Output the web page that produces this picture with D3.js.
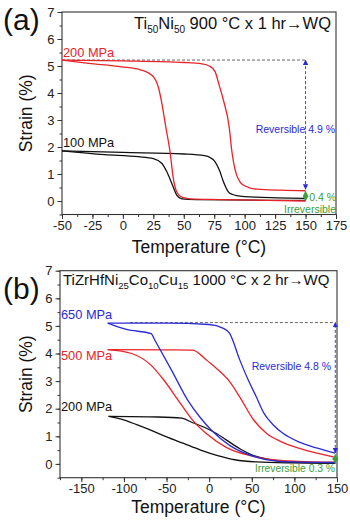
<!DOCTYPE html>
<html><head><meta charset="utf-8">
<script src="https://cdn.jsdelivr.net/npm/d3@7"></script>
<style>body{margin:0;background:#fff;} svg{display:block;font-family:"Liberation Sans",Arial,sans-serif;}</style>
</head><body>
<svg id="c" width="350" height="520"></svg>
<script>
// Panel (a): Ti50Ni50
const aXTicks = [-50,-25,0,25,50,75,100,125,150,175];
const aYTicks = [0,1,2,3,4,5,6,7];
const aRed1 = [[-50,5.22],[0,5.19],[50,5.13],[65,5.08],[71,5.0],[75.6,4.8],[79,4.3],[82.5,3.74],[87.4,2.7],[89.3,1.9],[91,1.4],[93.4,0.96],[96,0.72],[98.9,0.59],[104,0.49],[110,0.44],[130,0.40],[150,0.38]];
const aRed2 = [[-50,5.22],[-28,5.1],[-1,4.97],[15,4.85],[25,4.6],[29,4.23],[32,3.62],[35,2.8],[38.7,1.83],[41.4,0.84],[44.2,0.34],[48.3,0.14],[55,0.08],[80,0.05],[150,0.0]];
const aBlack1 = [[-50,1.86],[0,1.8],[50,1.74],[67,1.68],[72,1.6],[75.6,1.46],[79.7,1.09],[82.5,0.72],[86.6,0.34],[90,0.24],[93.4,0.2],[110,0.14],[150,0.1]];
const aBlack2 = [[-50,1.86],[-15,1.72],[12.7,1.64],[25,1.57],[31.9,1.4],[36,1.09],[40.1,0.66],[44.2,0.22],[48.3,0.08],[60,0.05],[150,0.02]];
// Panel (b): TiZrHfNi25Co10Cu15
const bXTicks = [-150,-100,-50,0,50,100,150];
const bYTicks = [0,1,2,3,4,5,6,7];
const bBlue1 = [[-119,5.1],[-50,5.1],[0,5.05],[16,4.92],[24,4.73],[36,3.76],[46,3.03],[55,2.45],[64,1.85],[75,1.42],[87,1.1],[105,0.8],[126,0.58],[148,0.39]];
const bBlue2 = [[-119,5.1],[-97,4.87],[-68,4.72],[-64,4.5],[-44,3.39],[-25,2.3],[-11,1.7],[3,1.21],[24,0.67],[56,0.24],[95,0.07],[148,0.05]];
const bRed1 = [[-119,4.14],[-50,4.13],[-19,4.12],[-10,3.95],[-3,3.76],[10,3.42],[24,2.98],[36,2.42],[52,1.6],[67.5,1.1],[85,0.8],[107,0.55],[148,0.24]];
const bRed2 = [[-119,4.14],[-91,4.0],[-68,3.57],[-53,3.03],[-35,2.25],[-19,1.57],[-3,1.09],[20,0.6],[48,0.3],[87,0.12],[148,0.06]];
const bBlack1 = [[-118,1.72],[-60,1.7],[-32,1.66],[-20,1.5],[-5,1.32],[9,1.09],[20,0.87],[36,0.55],[50,0.33],[67,0.18],[95,0.06],[148,0.03]];
const bBlack2 = [[-118,1.72],[-103,1.62],[-85,1.42],[-70,1.24],[-50,0.98],[-30,0.74],[-10,0.5],[10,0.3],[30,0.15],[55,0.07],[90,0.04],[148,0.03]];

const RED="#e8232a", BLACK="#111", BLUE="#2b2bd6", GREEN="#3a9e3a", AX="#333";
const svg = d3.select("#c");
const defs = svg.append("defs");
function marker(id,color){
  defs.append("marker").attr("id",id).attr("viewBox","0 0 10 10").attr("refX",9).attr("refY",5)
   .attr("markerWidth",6).attr("markerHeight",6).attr("orient","auto-start-reverse")
   .append("path").attr("d","M0,0L10,5L0,10Z").attr("fill",color);
}
marker("mb",BLUE); marker("mg",GREEN);

function panel(o){
  const x = d3.scaleLinear().domain(o.xd).range([o.l,o.r]);
  const y = d3.scaleLinear().domain([-0.5,7]).range([o.b,o.t]);
  const g = svg.append("g");
  const xMinor = d3.range(o.xd[0], o.xd[1]+0.001, o.xminor);
  g.append("g").attr("transform",`translate(0,${o.b})`)
    .call(d3.axisBottom(x).tickValues(xMinor).tickSize(2.5).tickFormat(""))
    .call(s=>{s.select(".domain").remove(); s.selectAll("line").attr("stroke",AX);});
  g.append("g").attr("transform",`translate(${o.l},0)`)
    .call(d3.axisLeft(y).tickValues(d3.range(-0.5,7.01,0.5)).tickSize(2.5).tickFormat(""))
    .call(s=>{s.select(".domain").remove(); s.selectAll("line").attr("stroke",AX);});
  const xa = g.append("g").attr("transform",`translate(0,${o.b})`)
    .call(d3.axisBottom(x).tickValues(o.xt).tickSize(4.5).tickPadding(2).tickFormat(d=>String(d)));
  xa.select(".domain").remove();
  xa.selectAll("line").attr("stroke",AX);
  xa.selectAll("text").attr("font-size",13).attr("fill","#222").attr("font-family","Liberation Sans, Arial, sans-serif");
  const ya = g.append("g").attr("transform",`translate(${o.l},0)`)
    .call(d3.axisLeft(y).tickValues(o.yt).tickSize(4.5).tickPadding(3).tickFormat(d=>String(d)));
  ya.select(".domain").remove();
  ya.selectAll("line").attr("stroke",AX);
  ya.selectAll("text").attr("font-size",13).attr("fill","#222").attr("font-family","Liberation Sans, Arial, sans-serif");
  g.append("rect").attr("x",o.l).attr("y",o.t).attr("width",o.r-o.l).attr("height",o.b-o.t)
    .attr("fill","none").attr("stroke",AX).attr("stroke-width",1.1);
  g.append("text").attr("x",(o.l+o.r)/2).attr("y",o.xty).attr("text-anchor","middle")
    .attr("font-size",17.5).attr("fill","#111").text("Temperature (°C)");
  g.append("text").attr("transform",`translate(32,${(o.t+o.b)/2}) rotate(-90)`).attr("text-anchor","middle")
    .attr("font-size",17.5).attr("fill","#111").text("Strain (%)");
  g.append("text").attr("x",3).attr("y",o.tagy).attr("font-size",30).attr("fill","#111").text(o.tag);
  return {g,x,y};
}

const line = (x,y)=>d3.line().x(d=>x(d[0])).y(d=>y(d[1])).curve(d3.curveMonotoneX);
function draw(p,data,color){
  p.g.append("path").attr("d",line(p.x,p.y)(data)).attr("fill","none").attr("stroke",color).attr("stroke-width",1.3);
}

// ---- panel a
const A = panel({xd:[-50,175], xt:aXTicks, yt:aYTicks, xminor:12.5, l:62, r:336, t:12, b:214.5, tag:"(a)", tagy:30, xty:253});
A.g.append("line").attr("x1",A.x(-50)).attr("x2",A.x(150)).attr("y1",A.y(5.22)).attr("y2",A.y(5.22))
  .attr("stroke","#555").attr("stroke-width",0.9).attr("stroke-dasharray","3,2");
draw(A,aBlack1,BLACK); draw(A,aBlack2,BLACK); draw(A,aRed1,RED); draw(A,aRed2,RED);
A.g.append("line").attr("x1",A.x(150)).attr("x2",A.x(150)).attr("y1",A.y(0.44)).attr("y2",A.y(5.22))
  .attr("stroke",BLUE).attr("stroke-width",0.9).attr("stroke-dasharray","3,2")
  .attr("marker-start","url(#mb)").attr("marker-end","url(#mb)");
A.g.append("line").attr("x1",A.x(150)).attr("x2",A.x(150)).attr("y1",A.y(0.0)).attr("y2",A.y(0.36))
  .attr("stroke",GREEN).attr("stroke-width",1).attr("marker-start","url(#mg)").attr("marker-end","url(#mg)");
A.g.append("text").attr("x",335).attr("y",A.y(2.52)).attr("text-anchor","end").attr("font-size",10.5).attr("fill",BLUE).text("Reversible  4.9 %");
A.g.append("text").attr("x",336).attr("y",200.5).attr("text-anchor","end").attr("font-size",10.5).attr("fill",GREEN).text("0.4 %");
A.g.append("text").attr("x",336).attr("y",212.5).attr("text-anchor","end").attr("font-size",10.5).attr("fill",GREEN).text("Irreversible");
A.g.append("text").attr("x",63).attr("y",A.y(5.35)).attr("font-size",12.8).attr("fill",RED).text("200 MPa");
A.g.append("text").attr("x",63).attr("y",A.y(2.0)).attr("font-size",12.8).attr("fill",BLACK).text("100 MPa");
const tA = A.g.append("text").attr("x",331).attr("y",29).attr("text-anchor","end").attr("font-size",16.5).attr("fill","#111");
tA.append("tspan").text("Ti"); tA.append("tspan").attr("font-size",10).attr("dy",4).text("50");
tA.append("tspan").attr("dy",-4).text("Ni"); tA.append("tspan").attr("font-size",10).attr("dy",4).text("50");
tA.append("tspan").attr("dy",-4).text(" 900 °C x 1 hr→WQ");

// ---- panel b
const B = panel({xd:[-175,150], xt:bXTicks, yt:bYTicks, xminor:25, l:60, r:337, t:270.7, b:477.7, tag:"(b)", tagy:299, xty:513});
B.g.append("line").attr("x1",B.x(-93)).attr("x2",B.x(148)).attr("y1",B.y(5.12)).attr("y2",B.y(5.12))
  .attr("stroke","#555").attr("stroke-width",0.9).attr("stroke-dasharray","3,2");
draw(B,bBlack1,BLACK); draw(B,bBlack2,BLACK); draw(B,bRed1,RED); draw(B,bRed2,RED); draw(B,bBlue1,BLUE); draw(B,bBlue2,BLUE);
B.g.append("line").attr("x1",B.x(148)).attr("x2",B.x(148)).attr("y1",B.y(0.40)).attr("y2",B.y(5.12))
  .attr("stroke",BLUE).attr("stroke-width",0.9).attr("stroke-dasharray","3,2")
  .attr("marker-start","url(#mb)").attr("marker-end","url(#mb)");
B.g.append("line").attr("x1",B.x(148)).attr("x2",B.x(148)).attr("y1",B.y(0.02)).attr("y2",B.y(0.34))
  .attr("stroke",GREEN).attr("stroke-width",1).attr("marker-start","url(#mg)").attr("marker-end","url(#mg)");
B.g.append("text").attr("x",331).attr("y",B.y(3.4)).attr("text-anchor","end").attr("font-size",10.5).attr("fill",BLUE).text("Reversible 4.8 %");
B.g.append("text").attr("x",335).attr("y",B.y(-0.3)).attr("text-anchor","end").attr("font-size",10.3).attr("fill",GREEN).text("Irreversible 0.3 %");
B.g.append("text").attr("x",61).attr("y",B.y(5.25)).attr("font-size",12.8).attr("fill",BLUE).text("650 MPa");
B.g.append("text").attr("x",61).attr("y",B.y(3.75)).attr("font-size",12.8).attr("fill",RED).text("500 MPa");
B.g.append("text").attr("x",61).attr("y",B.y(1.9)).attr("font-size",12.8).attr("fill",BLACK).text("200 MPa");
const tB = B.g.append("text").attr("x",63).attr("y",285).attr("font-size",15).attr("fill","#111");
tB.append("tspan").text("TiZrHfNi"); tB.append("tspan").attr("font-size",9.5).attr("dy",4).text("25");
tB.append("tspan").attr("dy",-4).text("Co"); tB.append("tspan").attr("font-size",9.5).attr("dy",4).text("10");
tB.append("tspan").attr("dy",-4).text("Cu"); tB.append("tspan").attr("font-size",9.5).attr("dy",4).text("15");
tB.append("tspan").attr("dy",-4).text(" 1000 °C x 2 hr→WQ");
</script>
</body></html>
